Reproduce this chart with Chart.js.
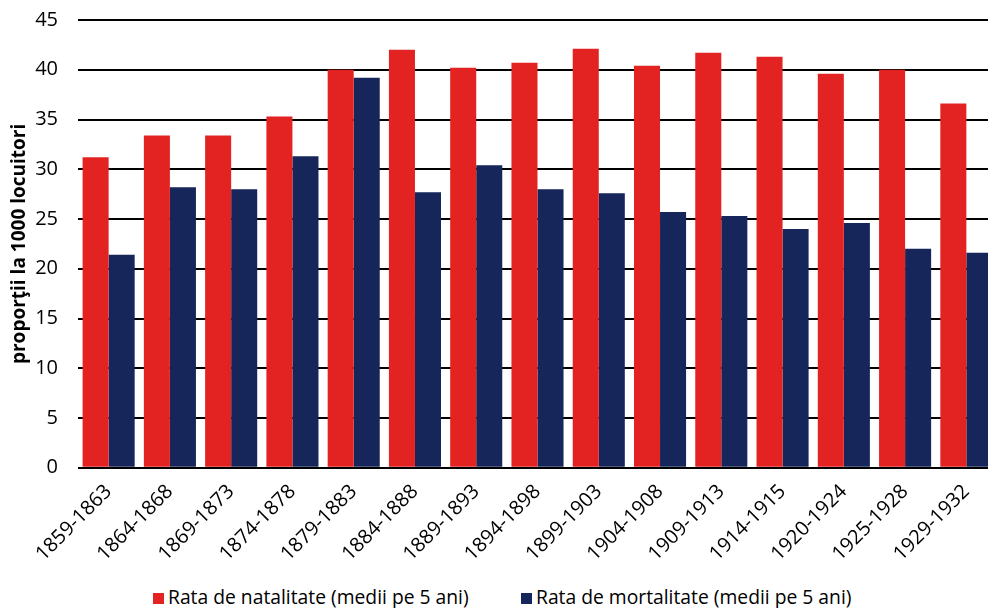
<!DOCTYPE html>
<html>
<head>
<meta charset="utf-8">
<script src="https://cdn.jsdelivr.net/npm/chart.js@4"></script>
<style>
  html, body { margin: 0; padding: 0; background: #fff; overflow: hidden; }
  body { width: 988px; height: 608px; position: relative; font-family: 'Open Sans', sans-serif; }
  #wrap { position: absolute; left: 0; top: -12px; width: 997px; height: 582px; }
  #legend { position: absolute; left: 0; top: 584px; width: 988px; height: 25px; font-size: 19.3px; color: #000; }
  .item { position: absolute; top: 0; white-space: nowrap; line-height: 25px; }
  .box { display: inline-block; width: 11px; height: 11px; margin-right: 4px; vertical-align: 0px; }
</style>
</head>
<body>
<div id="wrap"><canvas id="myChart"></canvas></div>
<div id="legend"></div>
<script>
const periods = ["1859-1863", "1864-1868", "1869-1873", "1874-1878", "1879-1883",
  "1884-1888", "1889-1893", "1894-1898", "1899-1903", "1904-1908",
  "1909-1913", "1914-1915", "1920-1924", "1925-1928", "1929-1932"];
const natalitate = [31.2, 33.4, 33.4, 35.3, 40.0, 42.0, 40.2, 40.7, 42.1, 40.4, 41.7, 41.3, 39.6, 40.0, 36.6];
const mortalitate = [21.4, 28.2, 28.0, 31.3, 39.2, 27.7, 30.4, 28.0, 27.6, 25.7, 25.3, 24.0, 24.6, 22.0, 21.6];
const seriesNames = ["Rata de natalitate (medii pe 5 ani)", "Rata de mortalitate (medii pe 5 ani)"];
const seriesColors = ["#e32322", "#16255a"];

const font = "'Open Sans', sans-serif";

const ctx = document.getElementById("myChart").getContext("2d");
const myChart = new Chart(ctx, {
  type: "bar",
  data: {
    labels: periods,
    datasets: [
      {
        label: seriesNames[0],
        data: natalitate,
        backgroundColor: seriesColors[0],
        categoryPercentage: 0.85,
        barPercentage: 1,
      },
      {
        label: seriesNames[1],
        data: mortalitate,
        backgroundColor: seriesColors[1],
        categoryPercentage: 0.85,
        barPercentage: 1,
      },
    ],
  },
  options: {
    responsive: true,
    maintainAspectRatio: false,
    animation: false,
    layout: { padding: 0 },
    plugins: {
      tooltip: { enabled: false },
      legend: { display: false },
    },
    scales: {
      x: {
        grid: { display: false },
        border: { display: false },
        ticks: {
          color: "#000",
          font: { family: font, size: 20 },
          minRotation: 45,
          maxRotation: 45,
          padding: 4,
        },
      },
      y: {
        min: 0,
        max: 45,
        afterFit: (scale) => { scale.width = 78; },
        ticks: {
          stepSize: 5,
          color: "#000",
          font: { family: font, size: 20 },
          padding: 20,
        },
        grid: { color: "#000", lineWidth: 2, drawTicks: false },
        border: { display: false },
        title: {
          display: true,
          text: "proporţii la 1000 locuitori",
          color: "#000",
          font: { family: font, size: 19, weight: "bold" },
          padding: { top: 8, bottom: 0 },
        },
      },
    },
  },
});

// legend drawn as html below the chart
const legendPos = [153, 521];
const legend = document.getElementById("legend");
myChart.data.datasets.forEach((ds, i) => {
  const item = document.createElement("div");
  item.className = "item";
  item.style.left = legendPos[i] + "px";
  item.innerHTML = '<span class="box" style="background:' + ds.backgroundColor + '"></span>' + ds.label;
  legend.appendChild(item);
});
</script>
</body>
</html>
